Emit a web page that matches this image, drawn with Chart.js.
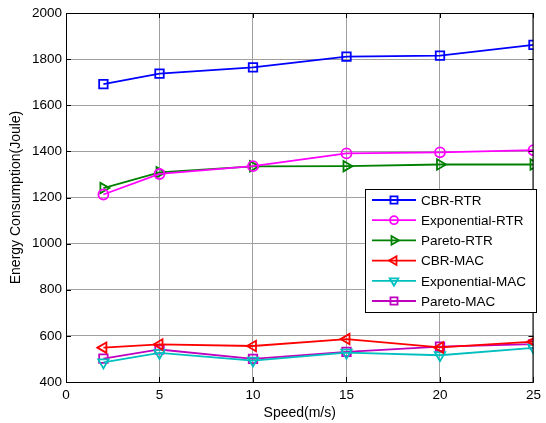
<!DOCTYPE html>
<html>
<head>
<meta charset="utf-8">
<script src="https://cdn.jsdelivr.net/npm/chart.js@4/dist/chart.umd.min.js"></script>
<style>
  body { margin: 0; background: #fff; }
  #wrap { width: 546px; height: 423px; }
</style>
</head>
<body>
<div id="wrap"><canvas id="chart" width="546" height="423"></canvas></div>
<script>
// speed values (m/s)
const speeds = [2, 5, 10, 15, 20, 25];

const cbrRtr = [1692, 1737, 1764, 1811, 1815, 1862];
const expRtr = [1213, 1302, 1336, 1391, 1396, 1405];
const paretoRtr = [1241, 1309, 1335, 1336, 1343, 1343];
const cbrMac = [549, 563, 556, 586, 550, 575];
const expMac = [485, 526, 493, 527, 516, 548];
const paretoMac = [501, 541, 500, 531, 553, 564];

const xTicks = [0, 5, 10, 15, 20, 25];
const yTicks = [400, 600, 800, 1000, 1200, 1400, 1600, 1800, 2000];

const font = "'Liberation Sans', Arial, sans-serif";

function series(label, values, color, style, rotation) {
    return {
        label,
        data: values.map((v, i) => ({ x: speeds[i], y: v })),
        borderColor: color,
        backgroundColor: color,
        borderWidth: 1.8,
        pointStyle: style,
        pointRotation: rotation || 0,
        pointRadius: style === 'circle' ? 5 : 6,
        pointBackgroundColor: 'rgba(0,0,0,0)',
        pointBorderColor: color,
        pointBorderWidth: 1.8,
        tension: 0,
    };
}

// MATLAB style: box around plot, ticks pointing inward on all sides
const boxTicks = {
    id: 'boxTicks',
    afterDraw(chart) {
        const { ctx, chartArea: a, scales } = chart;
        ctx.save();
        ctx.strokeStyle = '#000';
        ctx.lineWidth = 1;
        ctx.strokeRect(a.left + 0.5, a.top + 0.5, a.right - a.left - 1, a.bottom - a.top);
        ctx.beginPath();
        xTicks.forEach(t => {
            const x = Math.round(scales.x.getPixelForValue(t)) + 0.5;
            ctx.moveTo(x, a.bottom); ctx.lineTo(x, a.bottom - 5);
            ctx.moveTo(x, a.top); ctx.lineTo(x, a.top + 5);
        });
        yTicks.forEach(t => {
            const y = Math.round(scales.y.getPixelForValue(t)) + 0.5;
            ctx.moveTo(a.left, y); ctx.lineTo(a.left + 5, y);
            ctx.moveTo(a.right, y); ctx.lineTo(a.right - 5, y);
        });
        ctx.stroke();
        ctx.restore();
    }
};

// legend box drawn inside the plot area, like the original figure
const boxLegend = {
    id: 'boxLegend',
    afterDraw(chart) {
        const ctx = chart.ctx;
        const left = 365, top = 189, w = 171, h = 123, rowH = 20.2;
        ctx.save();
        ctx.fillStyle = '#fff';
        ctx.fillRect(left, top, w, h);
        ctx.strokeStyle = '#000';
        ctx.lineWidth = 1;
        ctx.strokeRect(left + 0.5, top + 0.5, w, h);
        ctx.font = '13.5px ' + font;
        ctx.textBaseline = 'middle';
        chart.data.datasets.forEach((ds, i) => {
            const y = top + 11 + i * rowH;
            ctx.strokeStyle = ds.borderColor;
            ctx.lineWidth = ds.borderWidth;
            ctx.beginPath();
            ctx.moveTo(372, y); ctx.lineTo(416, y);
            ctx.stroke();
            ctx.fillStyle = 'rgba(0,0,0,0)';
            Chart.helpers.drawPoint(ctx, {
                pointStyle: ds.pointStyle,
                rotation: ds.pointRotation,
                radius: ds.pointRadius - 1,
                borderWidth: ds.pointBorderWidth
            }, 394, y);
            ctx.fillStyle = '#000';
            ctx.fillText(ds.label, 421, y + 1);
        });
        ctx.restore();
    }
};

new Chart(document.getElementById('chart'), {
    type: 'line',
    data: {
        datasets: [
            series('CBR-RTR', cbrRtr, '#0000ff', 'rect'),
            series('Exponential-RTR', expRtr, '#ff00ff', 'circle'),
            series('Pareto-RTR', paretoRtr, '#008000', 'triangle', 90),
            series('CBR-MAC', cbrMac, '#ff0000', 'triangle', -90),
            series('Exponential-MAC', expMac, '#00bfbf', 'triangle', 180),
            series('Pareto-MAC', paretoMac, '#bf00bf', 'rect'),
        ]
    },
    options: {
        responsive: false,
        animation: false,
        layout: { padding: { top: 13, right: 7, left: 0, bottom: 0 } },
        plugins: {
            legend: { display: false },
            tooltip: { enabled: false },
        },
        scales: {
            x: {
                type: 'linear',
                min: 0, max: 25,
                afterBuildTicks: s => { s.ticks = xTicks.map(v => ({ value: v })); },
                afterFit: s => { s.height = 41; },
                grid: { color: '#a0a0a0', drawTicks: false },
                border: { display: false },
                ticks: { color: '#000', font: { family: font, size: 13.5 }, padding: 5, maxRotation: 0 },
                title: {
                    display: true, text: 'Speed(m/s)', color: '#000',
                    font: { family: font, size: 14 }, padding: { top: 0, bottom: 1 }
                },
            },
            y: {
                min: 400, max: 2000,
                afterBuildTicks: s => { s.ticks = yTicks.map(v => ({ value: v })); },
                afterFit: s => { s.width = 66; },
                grid: { color: '#a0a0a0', drawTicks: false },
                border: { display: false },
                ticks: {
                    color: '#000', font: { family: font, size: 13.5 }, padding: 4,
                    callback: v => String(v)
                },
                title: {
                    display: true, text: 'Energy Consumption(Joule)', color: '#000',
                    font: { family: font, size: 14 }, padding: { top: 8, bottom: 0 }
                },
            }
        }
    },
    plugins: [boxTicks, boxLegend]
});
</script>
</body>
</html>
